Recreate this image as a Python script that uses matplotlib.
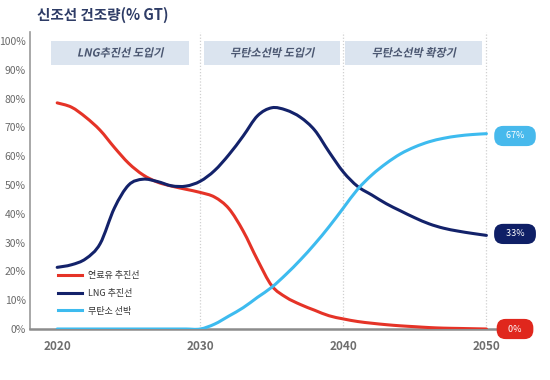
import matplotlib
matplotlib.use("Agg")
import matplotlib.pyplot as plt
from matplotlib.path import Path
from matplotlib.patches import PathPatch
from matplotlib.lines import Line2D
from matplotlib.patheffects import AbstractPathEffect
from matplotlib.transforms import Affine2D

plt.rcParams['font.family'] = ['Noto Sans CJK KR', 'DejaVu Sans']

years = list(range(2020, 2051))
fuel_oil = [78.5, 77, 73.5, 69, 63, 57.5, 53.5, 51, 49.6, 48.5, 47.4, 45.8, 41.8, 34, 24, 15,
            11, 8.5, 6.5, 4.6, 3.5, 2.6, 2, 1.5, 1.1, 0.8, 0.5, 0.3, 0.2, 0.1, 0]
lng = [21.4, 22.3, 24.4, 29.6, 42, 50, 52, 51.2, 49.7, 49.6, 51.3, 55, 60.5, 67, 74, 76.8,
       76, 73.5, 69, 61.5, 54.5, 49.5, 46.5, 43.5, 41, 38.6, 36.5, 35, 34, 33.2, 32.5]
zero_carbon = [0, 0, 0, 0, 0, 0, 0, 0, 0, 0, 0, 1.7, 4.5, 7.4, 11, 14.5, 19, 24, 29.5, 35.5,
               42, 48.5, 53.5, 57.5, 60.8, 63.2, 65, 66.2, 67, 67.5, 67.8]
series_names = ["연료유 추진선", "LNG 추진선", "무탄소 선박"]
end_labels = ["0%", "33%", "67%"]
end_values = [0, 33, 67]
phase_names = ["LNG추진선 도입기", "무탄소선박 도입기", "무탄소선박 확장기"]
phase_spans = [(2019.58, 2029.23), (2030.28, 2039.79), (2040.14, 2049.72)]
xticks = [2020, 2030, 2040, 2050]
yticks = list(range(0, 101, 10))
title = "신조선 건조량(% GT)"

colors = ["#e53327", "#13226a", "#3dbbef"]
label_colors = ["#e0271d", "#0f1f66", "#47b9ec"]


class Slant(AbstractPathEffect):
    """Draw text glyphs with a slight slant (faux italic)."""
    def __init__(self, deg=12):
        super().__init__()
        self.deg = deg

    def draw_path(self, renderer, gc, tpath, affine, rgbFace=None):
        renderer.draw_path(gc, tpath, Affine2D().skew_deg(self.deg, 0) + affine, rgbFace)


def smooth_path(xs, ys):
    """Smoothed line through the data points (Catmull-Rom drawn as Bezier curves)."""
    pts = list(zip(xs, ys))
    n = len(pts)
    verts = [pts[0]]
    codes = [Path.MOVETO]
    for i in range(n - 1):
        p0 = pts[max(i - 1, 0)]
        p1 = pts[i]
        p2 = pts[i + 1]
        p3 = pts[min(i + 2, n - 1)]
        c1 = (p1[0] + (p2[0] - p0[0]) / 6, p1[1] + (p2[1] - p0[1]) / 6)
        c2 = (p2[0] - (p3[0] - p1[0]) / 6, p2[1] - (p3[1] - p1[1]) / 6)
        verts += [c1, c2, p2]
        codes += [Path.CURVE4] * 3
    return Path(verts, codes)


fig = plt.figure(figsize=(5.5, 3.8), dpi=100)
ax = fig.add_axes([30/550, (380-329)/380, (505-30)/550, (329-32)/380])

ax.set_xlim(2018.1, 2051.3)
ax.set_ylim(0, 103.1)

for x in [2030, 2040, 2050]:
    ax.axvline(x, color="#d0d0d0", lw=0.9, ls=(0, (1, 1.5)), zorder=1)

for (x0, x1), name in zip(phase_spans, phase_names):
    ax.add_patch(plt.Rectangle((x0, 91.6), x1 - x0, 8.4, facecolor="#dbe4ef",
                               edgecolor="none", zorder=2))
    ax.text((x0 + x1) / 2, 95.8, name, ha="center", va="center", fontsize=8,
            color="#4a5670", fontweight="bold", zorder=3, path_effects=[Slant(12)])

handles = []
for vals, c, n in zip([fuel_oil, lng, zero_carbon], colors, series_names):
    ax.add_patch(PathPatch(smooth_path(years, vals), fill=False, edgecolor=c, lw=2.2,
                           capstyle="round", zorder=4))
    handles.append(Line2D([], [], color=c, lw=2.2, label=n))

for v, lab, c in zip(end_values, end_labels, label_colors):
    ax.text(2052.0, v, "   " + lab + "   ", ha="center", va="center", fontsize=6.5,
            color="white", clip_on=False, zorder=6,
            bbox=dict(boxstyle="round,pad=0.62,rounding_size=1.0", fc=c, ec="none"))

ax.spines["top"].set_visible(False)
ax.spines["right"].set_visible(False)
ax.spines["left"].set_color("#9a9a9a")
ax.spines["left"].set_linewidth(1.2)
ax.spines["bottom"].set_color("#8c8c8c")
ax.spines["bottom"].set_linewidth(1.8)

ax.set_xticks(xticks)
ax.set_xticklabels([str(t) for t in xticks], fontweight="bold")
ax.set_yticks(yticks)
ax.set_yticklabels([f"{t}%" for t in yticks])
ax.tick_params(axis="both", length=0, colors="#6a6a6a", labelsize=7.5)
ax.tick_params(axis="x", pad=8, labelsize=8.5, colors="#6e6e6e")
ax.tick_params(axis="y", pad=3)

leg = ax.legend(handles=handles, loc="lower left", bbox_to_anchor=(0.046, 0.024),
                frameon=False, fontsize=6.5, handlelength=2.6, handletextpad=0.7,
                labelspacing=0.98, borderaxespad=0.3)
for t in leg.get_texts():
    t.set_color("#333333")

fig.text(37/550, 1 - 15/380, title, fontsize=10.5, fontweight="bold", color="#2e3c66",
         ha="left", va="center")

fig.savefig("out.png", dpi=100)
